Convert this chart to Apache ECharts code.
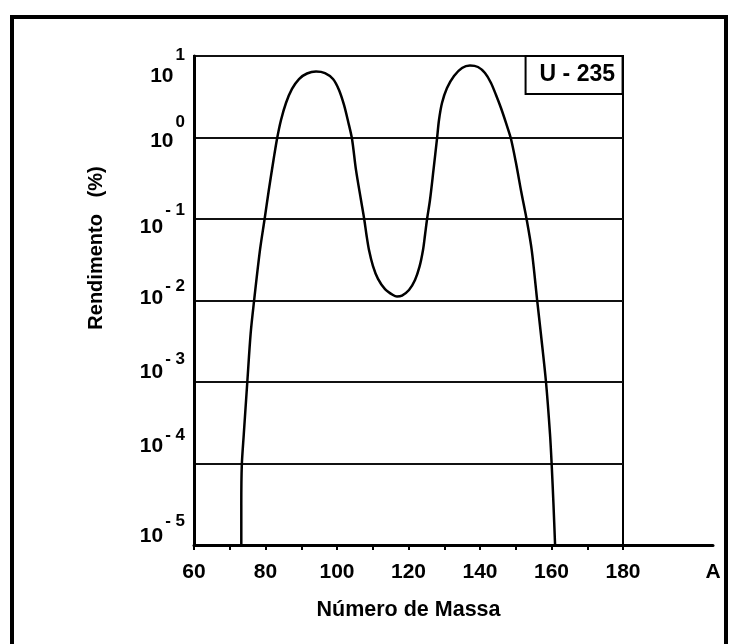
<!DOCTYPE html>
<html>
<head>
<meta charset="utf-8">
<script src="https://cdn.jsdelivr.net/npm/echarts@6/dist/echarts.min.js"></script>
<style>
  html, body { margin: 0; padding: 0; background: #fff; }
  #chart { width: 733px; height: 644px; }
</style>
</head>
<body>
<div id="chart"></div>
<script>
// Fission product yield of U-235 versus mass number (log scale)
const massNumbers = [
  73.23, 73.23, 73.37, 73.93, 74.91, 75.86, 76.78, 78.46, 79.72, 80.93,
  82.24, 83.22, 84.34, 85.73, 87.41, 89.37, 91.61, 94.13, 96.64, 98.88,
  100.56, 101.96, 103.08, 104.2, 105.31, 106.71, 107.64, 108.25, 108.95, 110.07,
  111.47, 113.43, 115.66, 116.78, 118.18, 120.14, 121.82, 123.08, 124.06, 124.62,
  125.17, 126.01, 126.99, 127.97, 128.53, 129.37, 130.77, 132.73, 134.97, 137.2,
  139.44, 141.4, 143.08, 144.48, 145.87, 147.27, 148.67, 150.07, 151.55, 153.06,
  154.46, 156.03, 157.06, 158.46, 159.58, 160.06, 160.56, 161.0
];
const yieldPercent = [
  1e-5, 3.1e-5, 9.5e-5, 2.3e-4, 1e-3, 4.0e-3, 9.7e-3, 0.0417, 0.098, 0.227,
  0.53, 0.96, 1.64, 2.65, 3.94, 5.22, 6.10, 6.46, 6.18, 5.22,
  3.83, 2.51, 1.59, 0.96, 0.40, 0.171, 0.098, 0.0637, 0.0417, 0.0265,
  0.0184, 0.0138, 0.01167, 0.0112, 0.0115, 0.01346, 0.01786, 0.026, 0.0417, 0.0637,
  0.098, 0.171, 0.40, 0.96, 1.64, 2.65, 4.05, 5.69, 7.13, 7.64,
  7.33, 6.18, 4.67, 3.32, 2.30, 1.51, 0.96, 0.486, 0.214, 0.098,
  0.0417, 0.0097, 0.0038, 0.001, 2.3e-4, 9.5e-5, 3.1e-5, 1e-5
];

const xTickValues = [60, 70, 80, 90, 100, 110, 120, 130, 140, 150, 160, 170, 180];
const xLabelValues = [60, 80, 100, 120, 140, 160, 180];
const decadeExponents = ['- 5', '- 4', '- 3', '- 2', '- 1', '0', '1'];

// vertical nudges (px) of the mantissa and exponent of each decade label, from 10^-5 up to 10^1
const mantissaShift = [-9, -17, -10, -2, 8, 4, 20];
const exponentShift = [-24, -28, -23, -14, -9, -15, -1];

const font = '"Liberation Sans", Arial, sans-serif';
const labelBox = 76;

const rich = {};
mantissaShift.forEach((d, i) => {
  const top = labelBox / 2 + d - 11;
  rich['b' + i] = {
    fontFamily: font, fontWeight: 'bold', fontSize: 21, lineHeight: 22, color: '#000',
    padding: [top, 0, labelBox - 22 - top, 0]
  };
});
exponentShift.forEach((d, i) => {
  const top = labelBox / 2 + d - 9;
  rich['e' + i] = {
    fontFamily: font, fontWeight: 'bold', fontSize: 17, lineHeight: 18, color: '#000',
    padding: [top, 0, labelBox - 18 - top, 2]
  };
});

const chart = echarts.init(document.getElementById('chart'), null, { renderer: 'canvas' });

chart.setOption({
  backgroundColor: '#ffffff',
  animation: false,
  title: {
    text: 'U - 235',
    right: 733 - 623,
    top: 56,
    padding: [7, 8, 7, 14],
    borderColor: '#000',
    borderWidth: 2,
    backgroundColor: '#fff',
    textStyle: { fontFamily: font, fontWeight: 'bold', fontSize: 23, color: '#000', lineHeight: 24 }
  },
  graphic: [{
    type: 'rect',
    shape: { x: 12, y: 17, width: 714, height: 640 },
    style: { fill: 'none', stroke: '#000', lineWidth: 4 },
    silent: true
  }],
  grid: [
    { left: 194, width: 429, top: 56, height: 489, show: true, borderColor: '#000', borderWidth: 2, backgroundColor: 'transparent' },
    { left: 194, width: 519, top: 56, height: 489, show: false }
  ],
  xAxis: [
    {
      gridIndex: 0, type: 'value', min: 60, max: 180,
      axisLine: { show: false }, axisTick: { show: false }, axisLabel: { show: false }, splitLine: { show: false },
      name: 'Número de Massa', nameLocation: 'middle', nameGap: 54,
      nameTextStyle: { fontFamily: font, fontWeight: 'bold', fontSize: 21.5, color: '#000' }
    },
    {
      gridIndex: 1, type: 'value', min: 60, max: 60 + 519 * 120 / 429,
      axisLine: { show: true, lineStyle: { color: '#000', width: 3 } },
      axisTick: { show: true, customValues: xTickValues, length: 5, lineStyle: { color: '#000', width: 2 } },
      axisLabel: { customValues: xLabelValues, margin: 17, color: '#000', fontFamily: font, fontWeight: 'bold', fontSize: 21 },
      splitLine: { show: false },
      name: 'A', nameLocation: 'end', nameGap: 0,
      nameTextStyle: { align: 'center', verticalAlign: 'top', padding: [17, 0, 0, 0], fontFamily: font, fontWeight: 'bold', fontSize: 21, color: '#000' }
    }
  ],
  yAxis: [
    {
      gridIndex: 0, type: 'log', logBase: 10, min: 1e-5, max: 10,
      axisLine: { show: true, lineStyle: { color: '#000', width: 3 } },
      axisTick: { show: false },
      splitLine: { show: true, lineStyle: { color: '#111', width: 2 } },
      axisLabel: {
        margin: 9, color: '#000',
        formatter: function (v) {
          const i = Math.round(Math.log10(v)) + 5;
          return '{b' + i + '|10}{e' + i + '|' + decadeExponents[i] + '}';
        },
        rich: rich
      },
      name: 'Rendimento   (%)', nameLocation: 'middle', nameRotate: 90, nameGap: 88,
      nameTextStyle: { fontFamily: font, fontWeight: 'bold', fontSize: 20, color: '#000', padding: [0, 0, 0, 105] }
    },
    {
      gridIndex: 1, type: 'value', show: false
    }
  ],
  series: [{
    type: 'line',
    xAxisIndex: 0, yAxisIndex: 0,
    data: massNumbers.map((a, i) => [a, yieldPercent[i]]),
    smooth: 0.3,
    showSymbol: false,
    symbol: 'none',
    lineStyle: { color: '#000', width: 2.5 }
  }]
});
</script>
</body>
</html>
